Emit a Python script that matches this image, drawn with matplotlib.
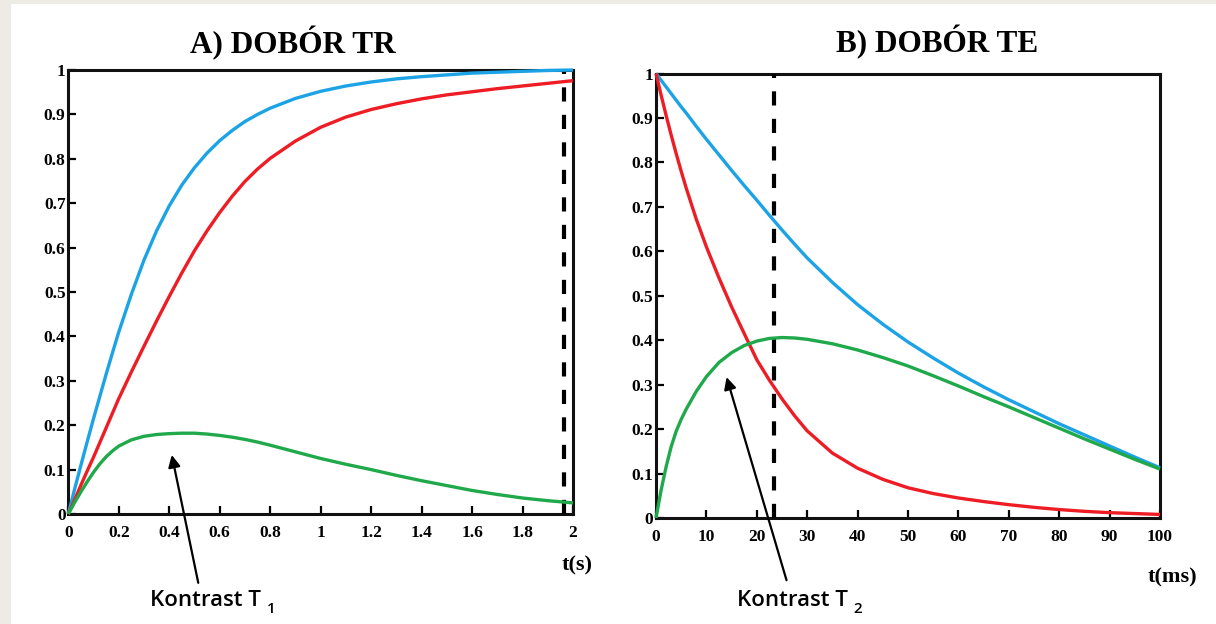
import matplotlib
matplotlib.use("Agg")
import matplotlib.pyplot as plt
from matplotlib.patches import Rectangle

# ---------------- data ----------------
# Panel A: choice of TR (time in s)
tA = [0, 0.025, 0.05, 0.075, 0.1, 0.125, 0.15, 0.175, 0.2, 0.25, 0.3, 0.35, 0.4,
      0.45, 0.5, 0.55, 0.6, 0.65, 0.7, 0.75, 0.8, 0.9, 1.0, 1.1, 1.2, 1.3, 1.4,
      1.5, 1.6, 1.7, 1.8, 1.9, 2.0]
blueA = [0, 0.056, 0.11, 0.163, 0.215, 0.265, 0.315, 0.363, 0.41, 0.495, 0.572,
         0.638, 0.694, 0.741, 0.78, 0.813, 0.841, 0.864, 0.884, 0.90, 0.914,
         0.936, 0.952, 0.964, 0.973, 0.98, 0.985, 0.989, 0.993, 0.995, 0.997,
         0.999, 1.0]
redA = [0, 0.032, 0.065, 0.097, 0.128, 0.161, 0.194, 0.227, 0.26, 0.32, 0.378,
        0.435, 0.49, 0.543, 0.593, 0.638, 0.679, 0.716, 0.749, 0.777, 0.801,
        0.84, 0.871, 0.894, 0.911, 0.924, 0.935, 0.944, 0.951, 0.958, 0.964,
        0.97, 0.976]
greenA = [0, 0.026, 0.05, 0.073, 0.094, 0.113, 0.129, 0.142, 0.153, 0.167, 0.175,
          0.179, 0.181, 0.182, 0.182, 0.18, 0.177, 0.173, 0.168, 0.162, 0.155,
          0.14, 0.125, 0.112, 0.10, 0.087, 0.075, 0.064, 0.053, 0.044, 0.036,
          0.03, 0.025]
dashA = 1.965

# Panel B: choice of TE (time in ms)
tB = [0, 1, 2, 3, 4, 5, 6, 8, 10, 12.5, 15, 17.5, 20, 22.5, 25, 27.5, 30, 35, 40,
      45, 50, 55, 60, 65, 70, 75, 80, 85, 90, 95, 100]
blueB = [1.0, 0.985, 0.97, 0.955, 0.94, 0.925, 0.911, 0.881, 0.852, 0.817, 0.782,
         0.748, 0.715, 0.681, 0.648, 0.616, 0.585, 0.53, 0.48, 0.436, 0.396,
         0.36, 0.326, 0.295, 0.266, 0.239, 0.212, 0.187, 0.162, 0.137, 0.113]
redB = [1.0, 0.952, 0.906, 0.862, 0.82, 0.78, 0.742, 0.672, 0.61, 0.54, 0.475,
        0.415, 0.356, 0.31, 0.268, 0.23, 0.196, 0.146, 0.112, 0.087, 0.068,
        0.055, 0.045, 0.037, 0.03, 0.024, 0.019, 0.015, 0.012, 0.01, 0.008]
greenB = [0, 0.062, 0.115, 0.16, 0.195, 0.222, 0.245, 0.285, 0.318, 0.35, 0.372,
          0.388, 0.398, 0.404, 0.406, 0.405, 0.402, 0.392, 0.378, 0.361, 0.342,
          0.32, 0.297, 0.273, 0.25, 0.226, 0.202, 0.178, 0.155, 0.132, 0.11]
dashB = 23.5

yticks = [0, 0.1, 0.2, 0.3, 0.4, 0.5, 0.6, 0.7, 0.8, 0.9, 1]
yticklabels = ["0", "0.1", "0.2", "0.3", "0.4", "0.5", "0.6", "0.7", "0.8", "0.9", "1"]
xticksA = [0, 0.2, 0.4, 0.6, 0.8, 1.0, 1.2, 1.4, 1.6, 1.8, 2.0]
xticklabelsA = ["0", "0.2", "0.4", "0.6", "0.8", "1", "1.2", "1.4", "1.6", "1.8", "2"]
xticksB = [0, 10, 20, 30, 40, 50, 60, 70, 80, 90, 100]
xticklabelsB = [str(v) for v in xticksB]

titleA = "A) DOBÓR TR"
titleB = "B) DOBÓR TE"
xlabelA = "t(s)"
xlabelB = "t(ms)"
noteA = ("Kontrast T", "1")
noteB = ("Kontrast T", "2")

# ---------------- style ----------------
BLUE = "#1ca3e6"
RED = "#ee1c24"
GREEN = "#20a94a"
W, H = 1216, 624

plt.rcParams["font.family"] = ["Liberation Serif", "DejaVu Serif"]
plt.rcParams["font.weight"] = "bold"

fig = plt.figure(figsize=(W / 100, H / 100), dpi=100)
fig.patch.set_facecolor("#eeebe5")
fig.add_artist(Rectangle((11 / W, 0), 1 - 11 / W, 1 - 4 / H, transform=fig.transFigure,
                         facecolor="white", edgecolor="none", zorder=-10))


def fx(px):
    return px / W


def fy(py):
    return 1 - py / H


def setup(ax, xlim, xticks, xticklabels):
    ax.set_xlim(*xlim)
    ax.set_ylim(0, 1)
    ax.set_xticks(xticks)
    ax.set_xticklabels(xticklabels)
    ax.set_yticks(yticks)
    ax.set_yticklabels(yticklabels)
    ax.tick_params(direction="in", length=6, width=1.6, top=False, right=False,
                   labelsize=12.5, colors="black")
    ax.tick_params(axis="x", pad=8)
    ax.tick_params(axis="y", pad=2)
    for s in ax.spines.values():
        s.set_linewidth(2.2)
        s.set_color("#111111")
    ax.set_facecolor("white")


axA = fig.add_axes([fx(68.3), fy(514), fx(573 - 68.3), (514 - 70) / H])
axB = fig.add_axes([fx(656), fy(518), fx(1160 - 656), (518 - 73.5) / H])
setup(axA, (0, 2), xticksA, xticklabelsA)
setup(axB, (0, 100), xticksB, xticklabelsB)

lw = 2.4
for ax, t, series in ((axA, tA, (blueA, redA, greenA)), (axB, tB, (blueB, redB, greenB))):
    for y, c in zip(series, (BLUE, RED, GREEN)):
        ax.plot(t, y, color=c, lw=lw, clip_on=False, zorder=5,
                solid_capstyle="butt", solid_joinstyle="round")
axA.axvline(dashA, color="black", lw=3, linestyle=(0, (3.4, 3.2)), zorder=4)
axB.axvline(dashB, color="black", lw=3, linestyle=(0, (3.4, 3.2)), zorder=4)

# titles
fig.text(fx(293), fy(43), titleA, ha="center", va="center", fontsize=22.5, fontweight="bold")
fig.text(fx(937), fy(42), titleB, ha="center", va="center", fontsize=22.5, fontweight="bold")

# axis labels
fig.text(fx(577), fy(565), xlabelA, ha="center", va="center", fontsize=16, fontweight="bold")
fig.text(fx(1172), fy(577), xlabelB, ha="center", va="center", fontsize=16, fontweight="bold")

# arrows
arrow = dict(arrowstyle="-|>", color="black", lw=1.6, mutation_scale=18, shrinkA=0, shrinkB=0)
axA.annotate("", xy=(0.41, 0.133), xytext=(0.515, -0.155), arrowprops=arrow,
             annotation_clip=False)
axB.annotate("", xy=(14.0, 0.317), xytext=(25.9, -0.14), arrowprops=arrow,
             annotation_clip=False)

# contrast notes
sans = ["Open Sans", "DejaVu Sans"]
for (main, sub), x0 in ((noteA, 150), (noteB, 737)):
    txt = fig.text(fx(x0), fy(601), main, ha="left", va="center", fontsize=16,
                   family=sans, fontweight="semibold")
    axA.annotate(sub, xy=(1, 0), xycoords=txt, xytext=(4, -3), textcoords="offset points",
                 ha="left", va="bottom", fontsize=11, family=sans, fontweight="semibold",
                 annotation_clip=False)

fig.savefig("out.png", dpi=100, facecolor=fig.get_facecolor())
